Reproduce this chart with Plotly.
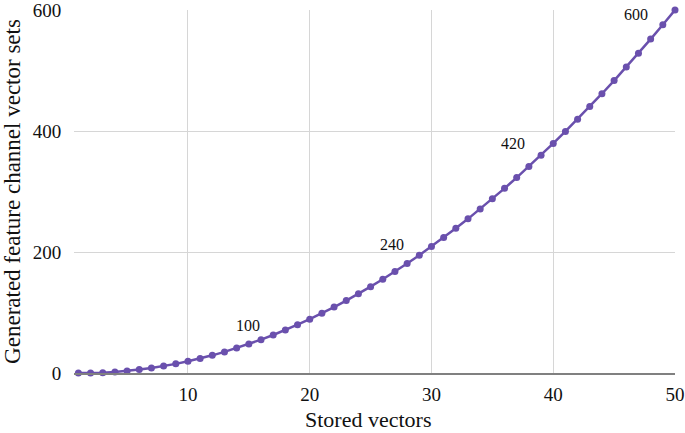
import plotly.graph_objects as go

stored_vectors = list(range(1, 51))
generated_sets = [0, 0, 0.5, 1.7, 3.4, 5.6, 8.2, 11.4, 15.1, 19.3,
                  24.0, 29.2, 34.9, 41.2, 47.9, 55.1, 62.8, 71.0, 79.8, 89.0,
                  98.7, 109.0, 119.7, 131.0, 142.7, 155.0, 167.7, 181.0, 194.7, 209.0,
                  223.8, 239.1, 254.8, 271.1, 287.9, 305.2, 323.0, 341.3, 360.1, 379.4,
                  399.2, 419.5, 440.3, 461.6, 483.4, 505.7, 528.6, 551.9, 575.7, 600.0]
label_x = [14.9, 26.75, 36.7, 46.8]
label_y = [78, 212, 380, 593]
label_text = ["100", "240", "420", "600"]

color = "#6a50ad"
fig = go.Figure()
fig.add_trace(go.Scatter(x=stored_vectors, y=generated_sets, mode="lines+markers",
                         line=dict(color=color, width=2.5),
                         marker=dict(color=color, size=7), cliponaxis=False,
                         showlegend=False))
for x, y, t in zip(label_x, label_y, label_text):
    fig.add_annotation(x=x, y=y, text=t, showarrow=False,
                       font=dict(family="Liberation Serif", size=16, color="#111"))

# x-axis title placed as a paper annotation for precise position
fig.add_annotation(xref="paper", yref="paper", x=0.49, y=-0.128, yanchor="middle",
                   text="Stored vectors", showarrow=False,
                   font=dict(family="Liberation Serif", size=22, color="#111"))

font = dict(family="Liberation Serif", size=19, color="#111")
fig.update_layout(
    width=685, height=433, margin=dict(l=74, r=10, t=10, b=60),
    plot_bgcolor="white", paper_bgcolor="white", font=font,
    xaxis=dict(range=[0.64, 50], tickvals=[10, 20, 30, 40, 50], showgrid=True,
               gridcolor="#d6d6d6", gridwidth=1, zeroline=False, automargin=False,
               showline=True, linecolor="#808080", linewidth=2,
               ticks="outside", ticklen=3, tickcolor="rgba(0,0,0,0)",
               ticklabeloverflow="allow", tickfont=dict(size=19)),
    yaxis=dict(range=[0, 600], tickvals=[0, 200, 400, 600], showgrid=True,
               gridcolor="#d6d6d6", gridwidth=1, zeroline=False, showline=False,
               automargin=False, ticklabeloverflow="allow",
               ticks="outside", ticklen=8, tickcolor="rgba(0,0,0,0)",
               title=dict(text="Generated feature channel vector sets", font=dict(size=23), standoff=12),
               tickfont=dict(size=19)),
)
fig.write_html("out.html", config={"displayModeBar": False},
               post_script="document.body.style.margin='0';document.body.style.overflow='hidden';")
